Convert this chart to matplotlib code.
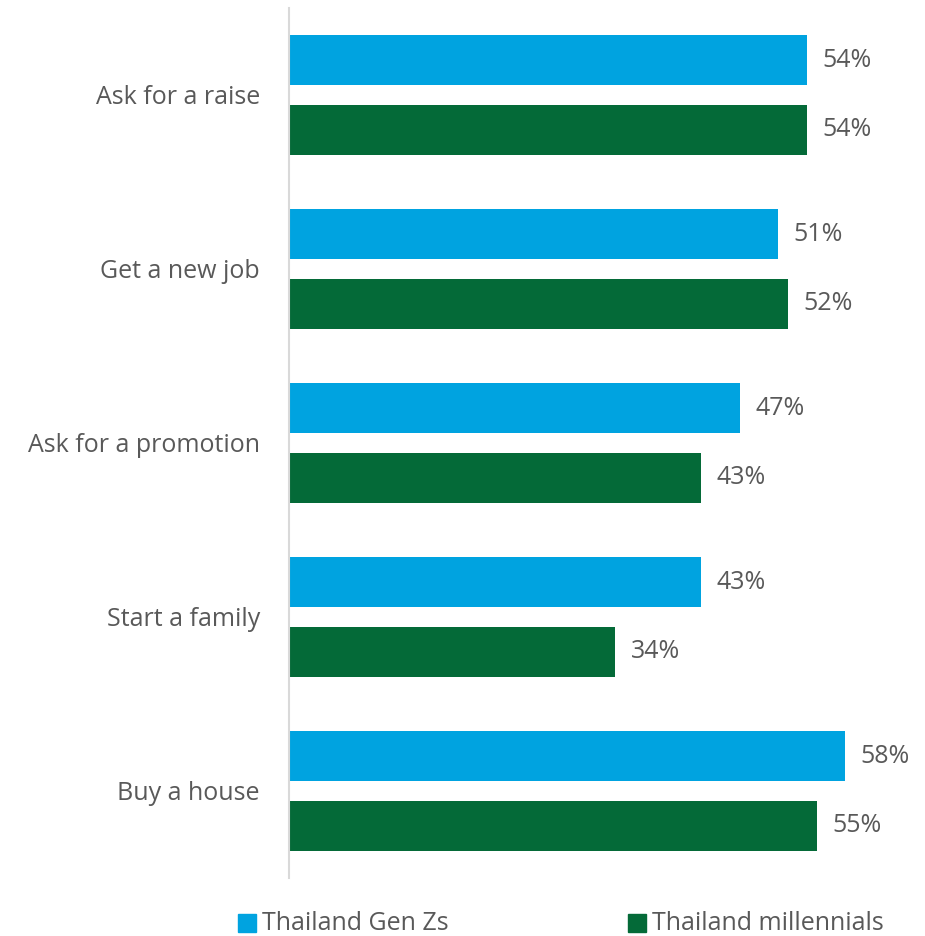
import matplotlib.pyplot as plt
import numpy as np

categories = ["Ask for a raise", "Get a new job", "Ask for a promotion",
              "Start a family", "Buy a house"]
gen_z = [54, 51, 47, 43, 58]
millennials = [54, 52, 43, 34, 55]
series_names = ["Thailand Gen Zs", "Thailand millennials"]

blue = "#00A3E0"
green = "#046A38"
grey = "#595959"

plt.rcParams['font.family'] = ['Open Sans', 'DejaVu Sans']

fig = plt.figure(figsize=(9.25, 9.36), dpi=100)
ax = fig.add_axes([289 / 925, 1 - 878 / 936, 1 - 289 / 925, 870 / 936])

y = np.arange(len(categories))
off = 0.2
h = 0.287
b1 = ax.barh(y - off, gen_z, height=h, color=blue)
b2 = ax.barh(y + off, millennials, height=h, color=green)

for bars, vals in ((b1, gen_z), (b2, millennials)):
    for bar, v in zip(bars, vals):
        ax.text(v + 1.6, bar.get_y() + bar.get_height() / 2, f"{v}%",
                va="center", ha="left", fontsize=18, color=grey)

ax.set_ylim(len(categories) - 0.5, -0.5)
ax.set_xlim(0, 66.3)
ax.set_yticks(y)
ax.set_yticklabels(categories, fontsize=18, color=grey)
ax.tick_params(axis="y", length=0, pad=21)
ax.set_xticks([])
for s in ("top", "right", "bottom"):
    ax.spines[s].set_visible(False)
ax.spines["left"].set_color("#D9D9D9")
ax.spines["left"].set_linewidth(1.5)

# legend drawn by hand below the plot
fig.patches.append(plt.Rectangle((238 / 925, 1 - 932 / 936), 18 / 925, 18 / 936,
                                 transform=fig.transFigure, color=blue))
fig.text(262 / 925, 1 - 923 / 936, series_names[0], fontsize=18, color=grey, va="center")
fig.patches.append(plt.Rectangle((628 / 925, 1 - 932 / 936), 18 / 925, 18 / 936,
                                 transform=fig.transFigure, color=green))
fig.text(652 / 925, 1 - 923 / 936, series_names[1], fontsize=18, color=grey, va="center")

fig.savefig("out.png", dpi=100)
